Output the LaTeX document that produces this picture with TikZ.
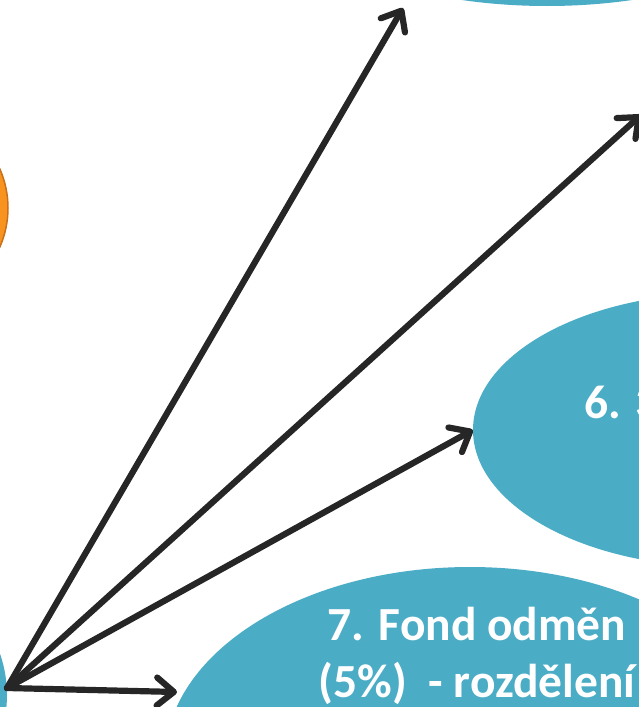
\documentclass[tikz,border=0pt]{standalone}
\usepackage{fontspec}
\setmainfont{Carlito}
\usetikzlibrary{arrows.meta, shapes.geometric}

\definecolor{blobteal}{HTML}{4BACC6}
\definecolor{blobcore}{HTML}{F7931E}
\definecolor{blobrim}{HTML}{C8701A}
\definecolor{linegray}{HTML}{262626}

\begin{document}
\begin{tikzpicture}[x=1pt, y=-1pt,
    blob/.style={ellipse, fill=blobteal, inner sep=0pt},
    link/.style={draw=linegray, line width=6.2pt, line cap=round,
        -{Straight Barb[length=17pt, width=28pt, round]}},
    caption/.style={text=white, align=center,
        font=\fontsize{47.5}{57}\selectfont\bfseries}]
    \useasboundingbox (0,0) rectangle (639,707);
    \clip (0,0) rectangle (639,707);
    \fill[blobcore, draw=blobrim, line width=1.5pt] (-89,208) circle (97);
    \node[blob, minimum width=610pt, minimum height=386pt] (root) at (-298,695) {};
    \node[blob, minimum width=600pt, minimum height=294pt] (top) at (547,-141) {};
    \node[blob, minimum width=500pt, minimum height=274pt] (six) at (723,430) {};
    \node[blob, minimum width=610pt, minimum height=386pt] (fond) at (470,760) {};
    \node[caption, anchor=base west] at (581,418) {6. 3};
    \node[caption, anchor=base] at (477,697) {7. Fond odměn\\(5\%)~~- rozdělení};
    \coordinate (src) at (7,688);
    \coordinate (up) at (403,8);
    \coordinate (right) at (641,115);
    \coordinate (low) at (177,692);
    \draw[link] (src) -- (up);
    \draw[link] (src) -- (right);
    \draw[link] (src) -- (six.west);
    \draw[link] (src) -- (low);
\end{tikzpicture}
\end{document}
